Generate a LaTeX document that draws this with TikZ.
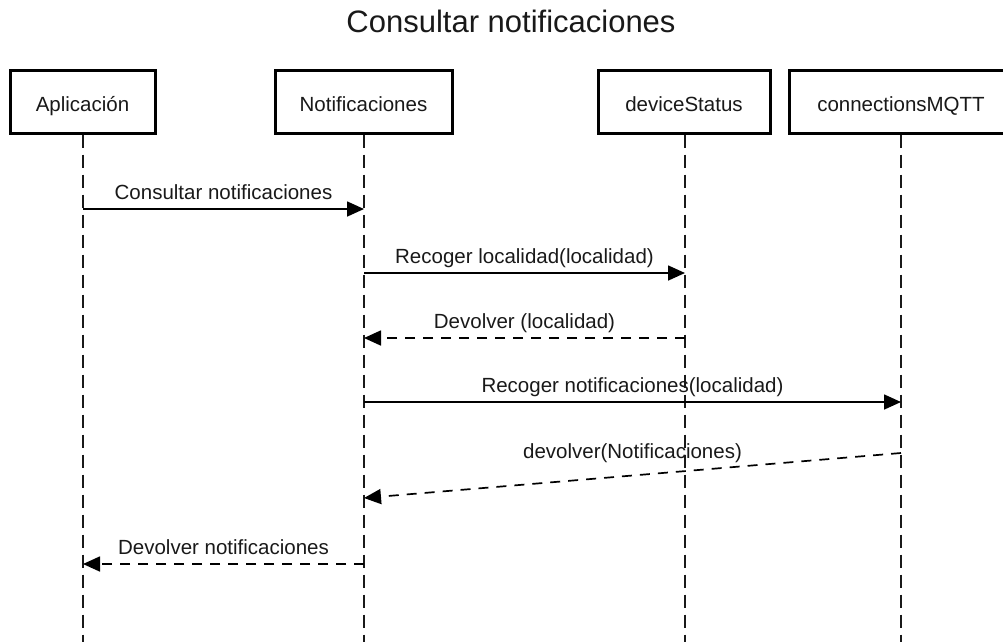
\documentclass[tikz,border=0pt]{standalone}
\usepackage{fontspec}
\setmainfont{Liberation Sans}
\usetikzlibrary{arrows.meta}
\begin{document}
\begin{tikzpicture}[x=1pt,y=-1pt,
  actor/.style={draw=black,line width=3pt,fill=white,minimum height=63pt,
    inner sep=0pt,text height=20.5pt,text depth=0pt,
    font=\fontsize{20.5}{24}\selectfont,text=black!90},
  lifeline/.style={draw=black!90,line width=1.8pt,dash pattern=on 13pt off 7pt},
  call/.style={draw=black,line width=1.7pt,-{Triangle[length=17pt,width=15pt]}},
  reply/.style={call,dash pattern=on 10pt off 8pt},
  lbl/.style={anchor=base,inner sep=0pt,font=\fontsize{20.5}{24}\selectfont,text=black!90},
]
\useasboundingbox (0,0) rectangle (1003,641);

% title
\node[anchor=base,inner sep=0pt,font=\fontsize{31}{36}\selectfont,text=black!90]
  (title) at (511,32) {Consultar notificaciones};

% participants
\node[actor,minimum width=145pt] (app) at (82.5,101.5) {Aplicación};
\node[actor,minimum width=177pt] (noti) at (363.5,101.5) {Notificaciones};
\node[actor,minimum width=172pt] (dev) at (684,101.5) {deviceStatus};
\node[actor,minimum width=224pt] (mqtt) at (901,101.5) {connectionsMQTT};

% lifeline ends
\coordinate (appE) at (83,645);
\coordinate (notiE) at (364,645);
\coordinate (devE) at (685,645);
\coordinate (mqttE) at (901,645);
\draw[lifeline] (app.south -| appE) -- (appE);
\draw[lifeline] (noti.south -| notiE) -- (notiE);
\draw[lifeline] (dev.south -| devE) -- (devE);
\draw[lifeline] (mqtt.south -| mqttE) -- (mqttE);

% message anchor points on the lifelines
\coordinate (m1a) at (83,209);   \coordinate (m1b) at (364,209);
\coordinate (m2a) at (364,273);  \coordinate (m2b) at (685,273);
\coordinate (m3a) at (685,338);  \coordinate (m3b) at (364,338);
\coordinate (m4a) at (364,402);  \coordinate (m4b) at (901,402);
\coordinate (m5a) at (901,453);  \coordinate (m5b) at (364,498);
\coordinate (m6a) at (364,564);  \coordinate (m6b) at (83,564);

% messages
\draw[call] (m1a) -- node[lbl,yshift=10pt] (t1) {Consultar notificaciones} (m1b);
\draw[call] (m2a) -- node[lbl,yshift=10pt] (t2) {Recoger localidad(localidad)} (m2b);
\draw[reply] (m3a) -- node[lbl,yshift=10pt] (t3) {Devolver (localidad)} (m3b);
\draw[call] (m4a) -- node[lbl,yshift=10pt] (t4) {Recoger notificaciones(localidad)} (m4b);
\draw[reply] (m5a) -- node[lbl,sloped=false,yshift=17pt] (t5) {devolver(Notificaciones)} (m5b);
\draw[reply] (m6a) -- node[lbl,yshift=10pt] (t6) {Devolver notificaciones} (m6b);
\end{tikzpicture}
\end{document}
